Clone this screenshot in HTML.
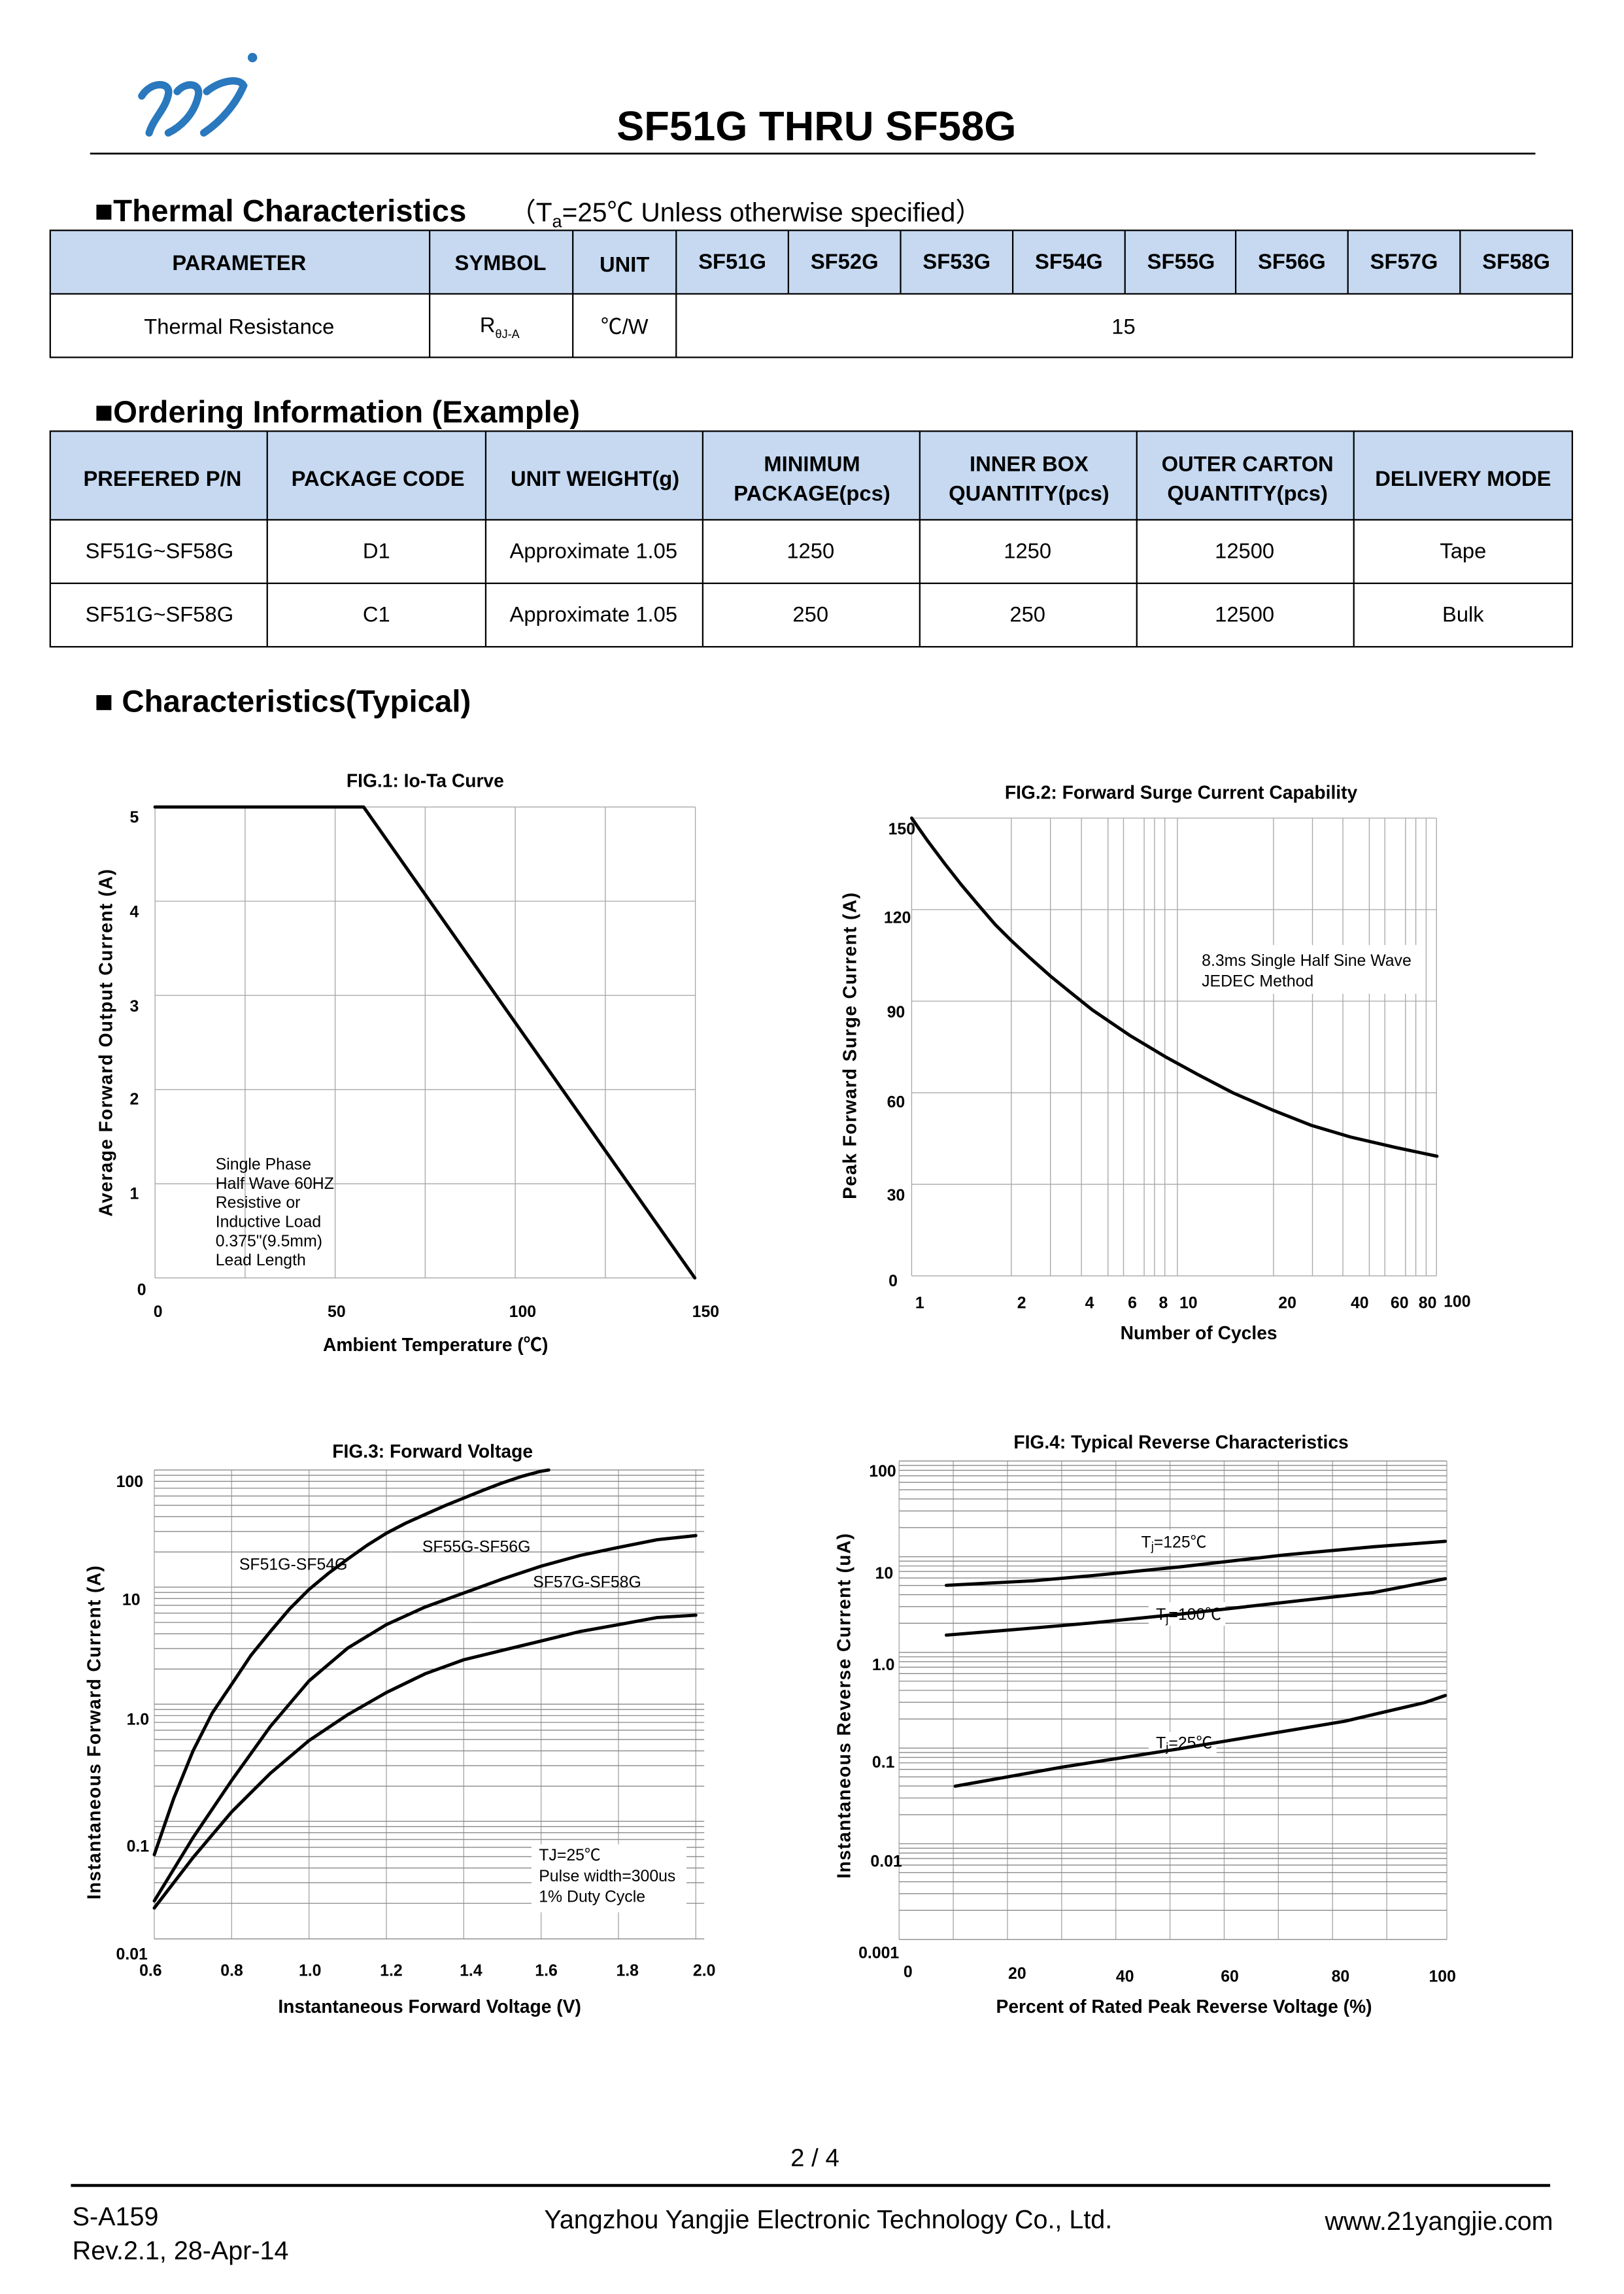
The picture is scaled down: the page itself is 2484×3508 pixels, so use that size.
<!DOCTYPE html>
<html><head><meta charset="utf-8"><style>
html,body{margin:0;padding:0;background:#fff;overflow:hidden}
svg{display:block}
text{font-family:"Liberation Sans","Noto Sans CJK SC",sans-serif;fill:#000}
.b{font-weight:bold}
.g{stroke:#a8a8a8;stroke-width:0.6;fill:none}
.gd{stroke:#888;stroke-width:0.6;fill:none}
.c{stroke:#000;stroke-width:2.2;fill:none;stroke-linejoin:round;stroke-linecap:round}
.th{font-size:14.5px;font-weight:bold;text-anchor:middle}
.td{font-size:14.5px;text-anchor:middle}
.tk{font-size:11px;font-weight:bold}
.yl{font-size:12.5px;font-weight:bold;letter-spacing:0.6px;text-anchor:middle}
.xl{font-size:12.5px;font-weight:bold;text-anchor:middle}
.an{font-size:11px}
</style></head><body>
<svg width="2484" height="3508" viewBox="0 0 1100 1553.5" xmlns="http://www.w3.org/2000/svg">
<g fill="none" stroke="#2a78bd" stroke-width="5" stroke-linecap="round">
<path d="M96,65 C102,55 116,55 114,64 C112,74 104,80 101,90"/>
<path d="M120,62 C126,55 137,56 134,66 C131,78 122,86 114,90"/>
<path d="M140,62 C148,55 162,52 165,58 C160,70 150,82 138,90"/>
</g>
<circle cx="171" cy="39" r="3.2" fill="#2a78bd"/>
<text x="553" y="95" class="b" font-size="28" text-anchor="middle">SF51G THRU SF58G</text>
<line x1="61" y1="104" x2="1040" y2="104" stroke="#000" stroke-width="1.2"/>

<text x="64" y="150" class="b" font-size="21">■Thermal Characteristics</text>
<text x="345" y="150" font-size="18">（T<tspan font-size="12" dy="4">a</tspan><tspan dy="-4">=25℃ Unless otherwise specified）</tspan></text>
<rect x="34" y="156" width="1031" height="43" fill="#c6d9f1"/>
<rect x="34" y="156" width="1031" height="86" fill="none" stroke="#000" stroke-width="1"/>
<line x1="34" y1="199" x2="1065" y2="199" stroke="#000"/>
<g stroke="#000" stroke-width="1">
<line x1="291" y1="156" x2="291" y2="242"/><line x1="388" y1="156" x2="388" y2="242"/><line x1="458" y1="156" x2="458" y2="242"/>
<line x1="534" y1="156" x2="534" y2="199"/><line x1="610" y1="156" x2="610" y2="199"/><line x1="686" y1="156" x2="686" y2="199"/><line x1="762" y1="156" x2="762" y2="199"/><line x1="837" y1="156" x2="837" y2="199"/><line x1="913" y1="156" x2="913" y2="199"/><line x1="989" y1="156" x2="989" y2="199"/>
</g>
<text class="th" x="162" y="183">PARAMETER</text><text class="th" x="339" y="183">SYMBOL</text><text class="th" x="423" y="184">UNIT</text>
<text class="th" x="496" y="182">SF51G</text><text class="th" x="572" y="182">SF52G</text><text class="th" x="648" y="182">SF53G</text><text class="th" x="724" y="182">SF54G</text><text class="th" x="800" y="182">SF55G</text><text class="th" x="875" y="182">SF56G</text><text class="th" x="951" y="182">SF57G</text><text class="th" x="1027" y="182">SF58G</text>
<text class="td" x="162" y="226">Thermal Resistance</text>
<text x="325" y="225" font-size="14.5">R<tspan font-size="8" dy="4">θJ-A</tspan></text>
<text class="td" x="423" y="226">℃/W</text>
<text class="td" x="761" y="226">15</text>

<text x="64" y="286" class="b" font-size="21">■Ordering Information (Example)</text>
<rect x="34" y="292" width="1031" height="60" fill="#c6d9f1"/>
<rect x="34" y="292" width="1031" height="146" fill="none" stroke="#000" stroke-width="1"/>
<g stroke="#000" stroke-width="1">
<line x1="34" y1="352" x2="1065" y2="352"/><line x1="34" y1="395" x2="1065" y2="395"/>
<line x1="181" y1="292" x2="181" y2="438"/><line x1="329" y1="292" x2="329" y2="438"/><line x1="476" y1="292" x2="476" y2="438"/><line x1="623" y1="292" x2="623" y2="438"/><line x1="770" y1="292" x2="770" y2="438"/><line x1="917" y1="292" x2="917" y2="438"/>
</g>
<text class="th" x="110" y="329">PREFERED P/N</text><text class="th" x="256" y="329">PACKAGE CODE</text><text class="th" x="403" y="329">UNIT WEIGHT(g)</text>
<text class="th" x="550" y="319">MINIMUM</text><text class="th" x="550" y="339">PACKAGE(pcs)</text>
<text class="th" x="697" y="319">INNER BOX</text><text class="th" x="697" y="339">QUANTITY(pcs)</text>
<text class="th" x="845" y="319">OUTER CARTON</text><text class="th" x="845" y="339">QUANTITY(pcs)</text>
<text class="th" x="991" y="329">DELIVERY MODE</text>
<text class="td" x="108" y="378">SF51G~SF58G</text><text class="td" x="255" y="378">D1</text><text class="td" x="402" y="378">Approximate 1.05</text><text class="td" x="549" y="378">1250</text><text class="td" x="696" y="378">1250</text><text class="td" x="843" y="378">12500</text><text class="td" x="991" y="378">Tape</text>
<text class="td" x="108" y="421">SF51G~SF58G</text><text class="td" x="255" y="421">C1</text><text class="td" x="402" y="421">Approximate 1.05</text><text class="td" x="549" y="421">250</text><text class="td" x="696" y="421">250</text><text class="td" x="843" y="421">12500</text><text class="td" x="991" y="421">Bulk</text>

<text x="64" y="482" class="b" font-size="21">■ Characteristics(Typical)</text>

<!-- FIG1 -->
<text x="288" y="533" class="b" font-size="12.5" text-anchor="middle">FIG.1: Io-Ta Curve</text>
<g class="g">
<line x1="105" y1="546.5" x2="471" y2="546.5"/><line x1="105" y1="610.3" x2="471" y2="610.3"/><line x1="105" y1="674.1" x2="471" y2="674.1"/><line x1="105" y1="737.9" x2="471" y2="737.9"/><line x1="105" y1="801.7" x2="471" y2="801.7"/><line x1="105" y1="865.4" x2="471" y2="865.4"/>
<line x1="105" y1="546.5" x2="105" y2="865.4"/><line x1="166" y1="546.5" x2="166" y2="865.4"/><line x1="227" y1="546.5" x2="227" y2="865.4"/><line x1="288" y1="546.5" x2="288" y2="865.4"/><line x1="349" y1="546.5" x2="349" y2="865.4"/><line x1="410" y1="546.5" x2="410" y2="865.4"/><line x1="471" y1="546.5" x2="471" y2="865.4"/>
</g>
<polyline class="c" points="105,546.5 246.3,546.5 470.6,865.4"/>
<g class="tk" text-anchor="end"><text x="94" y="557">5</text><text x="94" y="621">4</text><text x="94" y="685">3</text><text x="94" y="748">2</text><text x="94" y="812">1</text><text x="99" y="877">0</text></g>
<g class="tk" text-anchor="middle"><text x="107" y="892">0</text><text x="228" y="892">50</text><text x="354" y="892">100</text><text x="478" y="892">150</text></g>
<text class="xl" x="295" y="915">Ambient Temperature (℃)</text>
<text class="yl" transform="translate(76,706) rotate(-90)">Average Forward Output Current (A)</text>
<g class="an"><text x="146" y="792">Single Phase</text><text x="146" y="805">Half Wave 60HZ</text><text x="146" y="818">Resistive or</text><text x="146" y="831">Inductive Load</text><text x="146" y="844">0.375"(9.5mm)</text><text x="146" y="857">Lead Length</text></g>

<!-- FIG2 -->
<text x="800" y="541" class="b" font-size="12.5" text-anchor="middle">FIG.2: Forward Surge Current Capability</text>
<g class="g">
<line x1="617.5" y1="554" x2="973" y2="554"/><line x1="617.5" y1="616" x2="973" y2="616"/><line x1="617.5" y1="678" x2="973" y2="678"/><line x1="617.5" y1="740" x2="973" y2="740"/><line x1="617.5" y1="802" x2="973" y2="802"/><line x1="617.5" y1="864" x2="973" y2="864"/>
<line x1="617.5" y1="554" x2="617.5" y2="864"/>
<line x1="685" y1="554" x2="685" y2="864"/><line x1="711.5" y1="554" x2="711.5" y2="864"/><line x1="732.5" y1="554" x2="732.5" y2="864"/><line x1="750.5" y1="554" x2="750.5" y2="864"/><line x1="761" y1="554" x2="761" y2="864"/><line x1="775" y1="554" x2="775" y2="864"/><line x1="782" y1="554" x2="782" y2="864"/><line x1="789" y1="554" x2="789" y2="864"/><line x1="797.5" y1="554" x2="797.5" y2="864"/>
<line x1="862.6" y1="554" x2="862.6" y2="864"/><line x1="889" y1="554" x2="889" y2="864"/><line x1="909.6" y1="554" x2="909.6" y2="864"/><line x1="927.5" y1="554" x2="927.5" y2="864"/><line x1="938" y1="554" x2="938" y2="864"/><line x1="952" y1="554" x2="952" y2="864"/><line x1="959" y1="554" x2="959" y2="864"/><line x1="966" y1="554" x2="966" y2="864"/><line x1="973" y1="554" x2="973" y2="864"/>
</g>
<rect x="803" y="640" width="162" height="33" fill="#fff"/>
<polyline class="c" points="617.5,554 628,569 640,585 651,599 662.8,613 674,626 685,637 698,649 711.5,661 725,672 740,684 765,701 790,716 812,728 835,740 862.6,752 888,762 914.8,770 945,777 973.3,783"/>
<g class="an"><text x="814" y="654">8.3ms Single Half Sine Wave</text><text x="814" y="668">JEDEC Method</text></g>
<g class="tk" text-anchor="end"><text x="620" y="565">150</text><text x="617" y="625">120</text><text x="613" y="689">90</text><text x="613" y="750">60</text><text x="613" y="813">30</text><text x="608" y="871">0</text></g>
<g class="tk" text-anchor="middle"><text x="623" y="886">1</text><text x="692" y="886">2</text><text x="738" y="886">4</text><text x="767" y="886">6</text><text x="788" y="886">8</text><text x="805" y="886">10</text><text x="872" y="886">20</text><text x="921" y="886">40</text><text x="948" y="886">60</text><text x="967" y="886">80</text><text x="987" y="885">100</text></g>
<text class="xl" x="812" y="907">Number of Cycles</text>
<text class="yl" transform="translate(580,708) rotate(-90)">Peak Forward Surge Current (A)</text>

<!-- FIG3 -->
<text x="293" y="987" class="b" font-size="12.5" text-anchor="middle">FIG.3: Forward  Voltage</text>
<g class="g">
<line x1="104.5" y1="995.5" x2="104.5" y2="1313"/><line x1="156.9" y1="995.5" x2="156.9" y2="1313"/><line x1="209.3" y1="995.5" x2="209.3" y2="1313"/><line x1="261.7" y1="995.5" x2="261.7" y2="1313"/><line x1="314.1" y1="995.5" x2="314.1" y2="1313"/><line x1="366.5" y1="995.5" x2="366.5" y2="1313"/><line x1="418.9" y1="995.5" x2="418.9" y2="1313"/><line x1="471.3" y1="995.5" x2="471.3" y2="1313"/>
</g>
<g class="gd">
<line x1="104.5" x2="477" y1="995.5" y2="995.5"/><line x1="104.5" x2="477" y1="999.1" y2="999.1"/><line x1="104.5" x2="477" y1="1003.2" y2="1003.2"/><line x1="104.5" x2="477" y1="1007.8" y2="1007.8"/><line x1="104.5" x2="477" y1="1013.1" y2="1013.1"/><line x1="104.5" x2="477" y1="1019.4" y2="1019.4"/><line x1="104.5" x2="477" y1="1027.1" y2="1027.1"/><line x1="104.5" x2="477" y1="1037.1" y2="1037.1"/><line x1="104.5" x2="477" y1="1051" y2="1051"/>
<line x1="104.5" x2="477" y1="1074.8" y2="1074.8"/><line x1="104.5" x2="477" y1="1078.4" y2="1078.4"/><line x1="104.5" x2="477" y1="1082.5" y2="1082.5"/><line x1="104.5" x2="477" y1="1087.1" y2="1087.1"/><line x1="104.5" x2="477" y1="1092.4" y2="1092.4"/><line x1="104.5" x2="477" y1="1098.7" y2="1098.7"/><line x1="104.5" x2="477" y1="1106.4" y2="1106.4"/><line x1="104.5" x2="477" y1="1116.4" y2="1116.4"/><line x1="104.5" x2="477" y1="1130.3" y2="1130.3"/>
<line x1="104.5" x2="477" y1="1154.1" y2="1154.1"/><line x1="104.5" x2="477" y1="1157.7" y2="1157.7"/><line x1="104.5" x2="477" y1="1161.8" y2="1161.8"/><line x1="104.5" x2="477" y1="1166.4" y2="1166.4"/><line x1="104.5" x2="477" y1="1171.7" y2="1171.7"/><line x1="104.5" x2="477" y1="1178" y2="1178"/><line x1="104.5" x2="477" y1="1185.7" y2="1185.7"/><line x1="104.5" x2="477" y1="1195.7" y2="1195.7"/><line x1="104.5" x2="477" y1="1209.6" y2="1209.6"/>
<line x1="104.5" x2="477" y1="1233.4" y2="1233.4"/><line x1="104.5" x2="477" y1="1237" y2="1237"/><line x1="104.5" x2="477" y1="1241.1" y2="1241.1"/><line x1="104.5" x2="477" y1="1245.7" y2="1245.7"/><line x1="104.5" x2="477" y1="1251" y2="1251"/><line x1="104.5" x2="477" y1="1257.3" y2="1257.3"/><line x1="104.5" x2="477" y1="1265" y2="1265"/><line x1="104.5" x2="477" y1="1275" y2="1275"/><line x1="104.5" x2="477" y1="1288.9" y2="1288.9"/>
<line x1="104.5" x2="477" y1="1313" y2="1313"/>
</g>
<rect x="360" y="1249" width="105" height="46" fill="#fff"/>
<polyline class="c" points="104.5,1256 117.6,1218 130.7,1185.8 143.8,1160 156.9,1140.6 170,1121 183.1,1104.9 196.2,1089.5 209.3,1076.4 222.4,1065.5 235.5,1055.8 248.6,1046.5 261.7,1038.3 274.8,1031.5 287.9,1025.6 301,1019.8 314.1,1014.5 327.2,1009.2 340.3,1004.2 353.4,999.8 366.5,996.3 371.7,995.5"/>
<polyline class="c" points="104.5,1287.3 130.7,1244.5 156.9,1205.7 183.1,1169.2 209.3,1138.3 235.5,1116.1 261.7,1100.2 287.9,1088.3 314.1,1078.8 340.3,1069.3 366.5,1060.6 392.7,1053.4 418.9,1047.9 445.1,1042.7 471.3,1039.9"/>
<polyline class="c" points="104.5,1292.1 130.7,1258 156.9,1227 183.1,1200.9 209.3,1178.7 235.5,1161.2 261.7,1146.2 287.9,1133.5 314.1,1124 340.3,1117.6 366.5,1111.3 392.7,1104.9 418.9,1100.2 445.1,1095.4 471.3,1093.8"/>
<g class="an"><text x="162" y="1063">SF51G-SF54G</text><text x="286" y="1051">SF55G-SF56G</text><text x="361" y="1075">SF57G-SF58G</text>
<text x="365" y="1260">TJ=25℃</text><text x="365" y="1274">Pulse width=300us</text><text x="365" y="1288">1% Duty Cycle</text></g>
<g class="tk" text-anchor="end"><text x="97" y="1007">100</text><text x="95" y="1087">10</text><text x="101" y="1168">1.0</text><text x="101" y="1254">0.1</text><text x="100" y="1327">0.01</text></g>
<g class="tk" text-anchor="middle"><text x="102" y="1338">0.6</text><text x="157" y="1338">0.8</text><text x="210" y="1338">1.0</text><text x="265" y="1338">1.2</text><text x="319" y="1338">1.4</text><text x="370" y="1338">1.6</text><text x="425" y="1338">1.8</text><text x="477" y="1338">2.0</text></g>
<text class="xl" x="291" y="1363">Instantaneous Forward Voltage (V)</text>
<text class="yl" transform="translate(68,1173) rotate(-90)">Instantaneous Forward Current (A)</text>

<!-- FIG4 -->
<text x="800" y="981" class="b" font-size="12.5" text-anchor="middle">FIG.4: Typical Reverse Characteristics</text>
<g class="g">
<line x1="609" y1="989.4" x2="609" y2="1313.4"/><line x1="645.7" y1="989.4" x2="645.7" y2="1313.4"/><line x1="682.4" y1="989.4" x2="682.4" y2="1313.4"/><line x1="719.1" y1="989.4" x2="719.1" y2="1313.4"/><line x1="755.8" y1="989.4" x2="755.8" y2="1313.4"/><line x1="792.5" y1="989.4" x2="792.5" y2="1313.4"/><line x1="829.2" y1="989.4" x2="829.2" y2="1313.4"/><line x1="865.9" y1="989.4" x2="865.9" y2="1313.4"/><line x1="902.6" y1="989.4" x2="902.6" y2="1313.4"/><line x1="939.3" y1="989.4" x2="939.3" y2="1313.4"/><line x1="980" y1="989.4" x2="980" y2="1313.4"/>
</g>
<g class="gd">
<line x1="609" x2="980" y1="989.4" y2="989.4"/><line x1="609" x2="980" y1="992.4" y2="992.4"/><line x1="609" x2="980" y1="995.7" y2="995.7"/><line x1="609" x2="980" y1="999.4" y2="999.4"/><line x1="609" x2="980" y1="1003.8" y2="1003.8"/><line x1="609" x2="980" y1="1008.9" y2="1008.9"/><line x1="609" x2="980" y1="1015.1" y2="1015.1"/><line x1="609" x2="980" y1="1023.2" y2="1023.2"/><line x1="609" x2="980" y1="1034.5" y2="1034.5"/>
<line x1="609" x2="980" y1="1054.2" y2="1054.2"/><line x1="609" x2="980" y1="1057.2" y2="1057.2"/><line x1="609" x2="980" y1="1060.5" y2="1060.5"/><line x1="609" x2="980" y1="1064.2" y2="1064.2"/><line x1="609" x2="980" y1="1068.6" y2="1068.6"/><line x1="609" x2="980" y1="1073.7" y2="1073.7"/><line x1="609" x2="980" y1="1079.9" y2="1079.9"/><line x1="609" x2="980" y1="1088" y2="1088"/><line x1="609" x2="980" y1="1099.3" y2="1099.3"/>
<line x1="609" x2="980" y1="1119" y2="1119"/><line x1="609" x2="980" y1="1122" y2="1122"/><line x1="609" x2="980" y1="1125.3" y2="1125.3"/><line x1="609" x2="980" y1="1129" y2="1129"/><line x1="609" x2="980" y1="1133.4" y2="1133.4"/><line x1="609" x2="980" y1="1138.5" y2="1138.5"/><line x1="609" x2="980" y1="1144.7" y2="1144.7"/><line x1="609" x2="980" y1="1152.8" y2="1152.8"/><line x1="609" x2="980" y1="1164.1" y2="1164.1"/>
<line x1="609" x2="980" y1="1183.8" y2="1183.8"/><line x1="609" x2="980" y1="1186.8" y2="1186.8"/><line x1="609" x2="980" y1="1190.1" y2="1190.1"/><line x1="609" x2="980" y1="1193.8" y2="1193.8"/><line x1="609" x2="980" y1="1198.2" y2="1198.2"/><line x1="609" x2="980" y1="1203.3" y2="1203.3"/><line x1="609" x2="980" y1="1209.5" y2="1209.5"/><line x1="609" x2="980" y1="1217.6" y2="1217.6"/><line x1="609" x2="980" y1="1228.9" y2="1228.9"/>
<line x1="609" x2="980" y1="1248.6" y2="1248.6"/><line x1="609" x2="980" y1="1251.6" y2="1251.6"/><line x1="609" x2="980" y1="1254.9" y2="1254.9"/><line x1="609" x2="980" y1="1258.6" y2="1258.6"/><line x1="609" x2="980" y1="1263" y2="1263"/><line x1="609" x2="980" y1="1268.1" y2="1268.1"/><line x1="609" x2="980" y1="1274.3" y2="1274.3"/><line x1="609" x2="980" y1="1282.4" y2="1282.4"/><line x1="609" x2="980" y1="1293.7" y2="1293.7"/>
<line x1="609" x2="980" y1="1313.4" y2="1313.4"/>
</g>
<rect x="768" y="1036" width="52" height="16" fill="#fff"/>
<rect x="778" y="1085" width="52" height="16" fill="#fff"/>
<rect x="778" y="1173" width="46" height="16" fill="#fff"/>
<polyline class="c" points="641,1073.6 700,1070.5 740,1067 800,1061 870,1053 930,1047.5 979,1043.8"/>
<polyline class="c" points="641,1107.3 700,1102.5 740,1099 800,1093 880,1084 930,1078.5 979,1069.1"/>
<polyline class="c" points="647,1209.6 720,1196.6 798,1184.4 911,1165.6 965,1153 979,1148.2"/>
<g class="an"><text x="773" y="1048">T<tspan font-size="8" dy="2">j</tspan><tspan dy="-2">=125℃</tspan></text>
<text x="783" y="1097">T<tspan font-size="8" dy="2">j</tspan><tspan dy="-2">=100℃</tspan></text>
<text x="783" y="1184">T<tspan font-size="8" dy="2">j</tspan><tspan dy="-2">=25℃</tspan></text></g>
<g class="tk" text-anchor="end"><text x="607" y="1000">100</text><text x="605" y="1069">10</text><text x="606" y="1131">1.0</text><text x="606" y="1197">0.1</text><text x="611" y="1264">0.01</text><text x="609" y="1326">0.001</text></g>
<g class="tk" text-anchor="middle"><text x="615" y="1339">0</text><text x="689" y="1340">20</text><text x="762" y="1342">40</text><text x="833" y="1342">60</text><text x="908" y="1342">80</text><text x="977" y="1342">100</text></g>
<text class="xl" x="802" y="1363">Percent of Rated Peak Reverse Voltage (%)</text>
<text class="yl" transform="translate(576,1155) rotate(-90)">Instantaneous Reverse Current (uA)</text>

<text x="552" y="1467" font-size="17" text-anchor="middle">2 / 4</text>
<line x1="48" y1="1480" x2="1050" y2="1480" stroke="#000" stroke-width="2"/>
<text x="49" y="1507" font-size="17.5">S-A159</text>
<text x="49" y="1530" font-size="17.5">Rev.2.1, 28-Apr-14</text>
<text x="561" y="1509" font-size="17.5" text-anchor="middle">Yangzhou Yangjie Electronic Technology Co., Ltd.</text>
<text x="1052" y="1510" font-size="17.5" text-anchor="end">www.21yangjie.com</text>
</svg>
</body></html>
